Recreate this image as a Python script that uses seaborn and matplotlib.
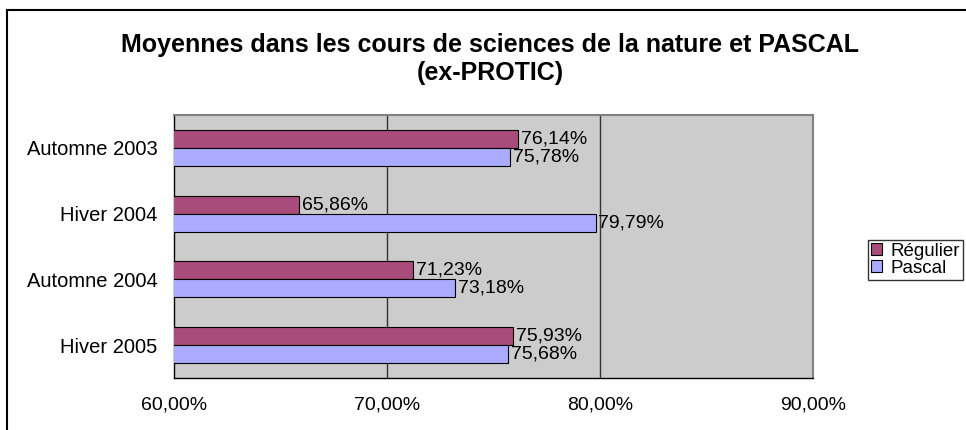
import seaborn as sns
import matplotlib.pyplot as plt
import pandas as pd
from matplotlib.patches import Rectangle

sessions = ['Automne 2003', 'Hiver 2004', 'Automne 2004', 'Hiver 2005']
regulier = [76.14, 65.86, 71.23, 75.93]
pascal = [75.78, 79.79, 73.18, 75.68]
series = ['Régulier', 'Pascal']
colors = ['#A94B7B', '#AAAAFF']
x_ticks = [60, 70, 80, 90]


def fmt(v):
    return f'{v:.2f}'.replace('.', ',') + '%'


def main():
    data = pd.DataFrame({
        'Session': sessions * 2,
        'Moyenne': regulier + pascal,
        'Groupe': ['Régulier'] * 4 + ['Pascal'] * 4,
    })

    sns.set_style('white')
    plt.rcParams['font.family'] = ['Liberation Sans', 'DejaVu Sans']
    plt.rcParams['text.color'] = 'black'
    plt.rcParams['xtick.color'] = 'black'
    plt.rcParams['ytick.color'] = 'black'

    fig = plt.figure(figsize=(9.66, 4.30), dpi=100)
    ax = fig.add_axes([174 / 966, 52 / 430, 639 / 966, 263 / 430])
    ax.set_facecolor('#CCCCCC')

    sns.barplot(data=data, y='Session', x='Moyenne', hue='Groupe',
                hue_order=series, order=sessions, palette=colors,
                saturation=1, orient='h', width=0.55, edgecolor='black',
                linewidth=0.8, ax=ax, legend=False, zorder=3)

    for cont in ax.containers:
        labels = [fmt(b.get_width()) for b in cont]
        ax.bar_label(cont, labels=labels, padding=2, fontsize=14, color='black')

    ax.set_xlim(60, 90)
    ax.set_ylim(3.5, -0.5)
    ax.set_xticks(x_ticks)
    ax.set_xticklabels([fmt(v) for v in x_ticks], fontsize=14)
    ax.tick_params(axis='x', direction='out', length=5, width=1, pad=8)
    ax.tick_params(axis='y', which='major', length=0, labelsize=14.5, pad=12)
    ax.set_yticks([-0.5, 0.5, 1.5, 2.5, 3.5], minor=True)
    ax.tick_params(axis='y', which='minor', direction='out', length=5, width=1)
    ax.set_xlabel('')
    ax.set_ylabel('')

    for v in [70, 80]:
        ax.axvline(v, color='#333333', linewidth=1, zorder=1)

    for side in ['left', 'bottom']:
        ax.spines[side].set_color('black')
        ax.spines[side].set_linewidth(1)
    for side in ['top', 'right']:
        ax.spines[side].set_color('#808080')
        ax.spines[side].set_linewidth(1.5)

    fig.text(490 / 966, 1 - 59 / 430,
             'Moyennes dans les cours de sciences de la nature et PASCAL\n(ex-PROTIC)',
             ha='center', va='center', fontsize=18, fontweight='bold',
             linespacing=1.25, color='black')

    handles = [Rectangle((0, 0), 1, 1, facecolor=c, edgecolor='black', linewidth=0.8)
               for c in colors]
    leg = fig.legend(handles, series, loc='upper left',
                     bbox_to_anchor=(868 / 966, 1 - 240 / 430),
                     fontsize=13.5, frameon=True, fancybox=False,
                     handlelength=0.6, handleheight=0.6, handletextpad=0.45,
                     borderpad=0.15, labelspacing=0.0, borderaxespad=0)
    leg.get_frame().set_edgecolor('black')
    leg.get_frame().set_linewidth(1)

    border = Rectangle((7 / 966, -0.1), 1.2, 1 - 10 / 430 + 0.1,
                       transform=fig.transFigure, fill=False,
                       edgecolor='black', linewidth=1.5)
    fig.patches.append(border)

    fig.savefig('out.png', dpi=100)


if __name__ == '__main__':
    main()
